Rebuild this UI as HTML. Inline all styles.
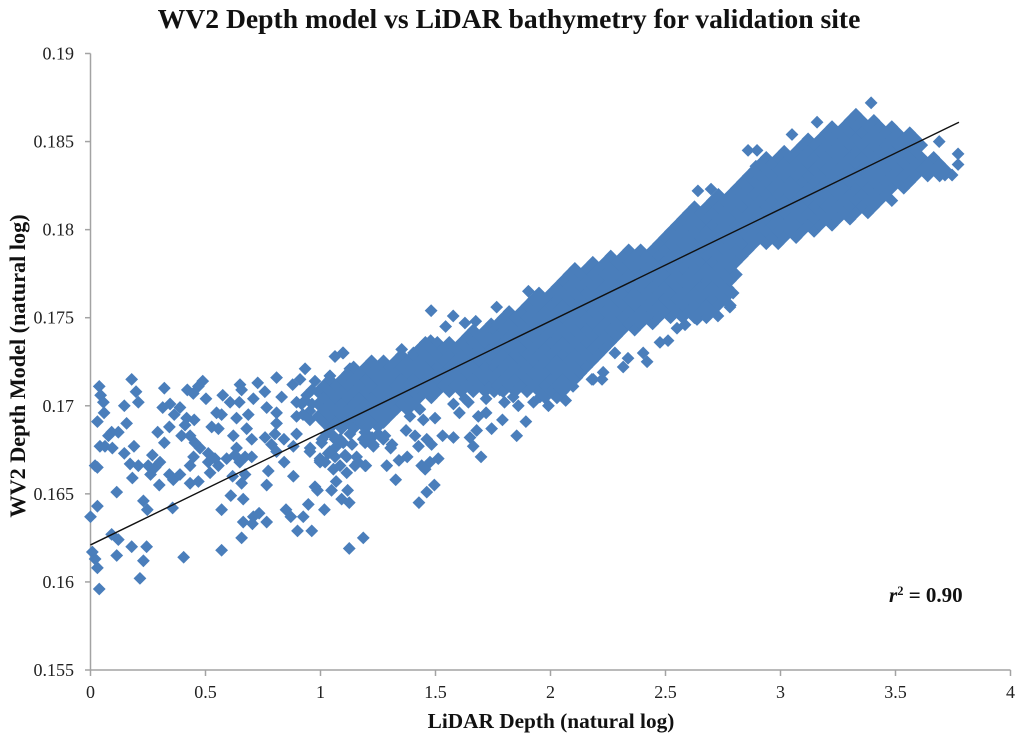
<!DOCTYPE html>
<html>
<head>
<meta charset="utf-8">
<title>WV2 Depth model vs LiDAR bathymetry</title>
<style>
html,body{margin:0;padding:0;background:#fff;}
svg{display:block;}
text{font-family:"Liberation Serif",serif;}
</style>
</head>
<body>
<svg id="chart" width="1024" height="739" viewBox="0 0 1024 739" xmlns="http://www.w3.org/2000/svg">
<rect x="0" y="0" width="1024" height="739" fill="#ffffff"/>
<text x="509" y="28" text-anchor="middle" font-size="27.65" font-weight="bold" fill="#111">WV2 Depth model vs LiDAR bathymetry for validation site</text>
<text x="551" y="728" text-anchor="middle" font-size="21.3" font-weight="bold" fill="#111">LiDAR Depth (natural log)</text>
<text transform="translate(25,366) rotate(-90)" text-anchor="middle" font-size="22.2" font-weight="bold" fill="#111">WV2 Depth Model (natural log)</text>
<text x="889" y="602" font-size="21" font-weight="bold" fill="#111"><tspan font-style="italic">r</tspan><tspan font-size="12.5" dy="-7">2</tspan><tspan dy="7"> = 0.90</tspan></text>
<g id="axes"></g>
<g id="points"></g>
<g id="trend"></g>
</svg>
<script>
const xTicks = [0, 0.5, 1, 1.5, 2, 2.5, 3, 3.5, 4];
const xTickLabels = ["0", "0.5", "1", "1.5", "2", "2.5", "3", "3.5", "4"];
const yTicks = [0.155, 0.16, 0.165, 0.17, 0.175, 0.18, 0.185, 0.19];
const yTickLabels = ["0.155", "0.16", "0.165", "0.17", "0.175", "0.18", "0.185", "0.19"];
const trendDepth = [0, 3.776];
const trendModel = [0.1621, 0.1861];

const scatterDepth = [
.038,.179,.044,.198,.056,.208,.147,.059,.030,.157,.121,.092,.078,.041,.063,.095,.189,.147,.020,.030,.172,.208,.182,.114,.030,0,.230,.247,.092,.121,.179,.244,.008,.020,.114,.230,.030,.215,.038,.405,.570,.657,.357,.570,.610,.664,.664,.708,.704,.733,.766,.850,.871,.925,.900,.962,.947,1.017,1.125,1.186,.976,.987,1.048,1.118,1.092,1.125,1.068,.882,.766,.657,.773,.842,.672,.618,
.299,.343,.360,.389,.433,.469,.520,.261,.281,.251,.302,.269,.433,.448,.512,.556,.541,.512,.592,.628,.649,.635,.701,.672,.476,.454,.433,.396,.321,.292,.343,.411,.451,.418,.364,.389,.346,.314,.321,.421,.447,.469,.488,.502,.575,.607,.650,.657,.647,.708,.727,.758,.809,.831,.766,.809,.686,.635,.570,.548,.527,.556,.621,.679,.701,.759,.809,.802,.787,.841,.809,.882,.954,.896,.896,.896,.918,.879,.933,.911,.976,.940,.954,1.020,1.041,1.063,1.099,1.128,1.186,1.230,1.194,1.114,1.056,1.157,.998,1.034,1.099,1.114,1.063,1.005,1.026,1.026,1.056,1.114,1.085,1.143,1.215,1.201,
1.481,1.544,1.479,1.353,1.404,1.097,1.063,1.904,1.766,1.675,1.577,1.628,1.041,1.128,1.720,1.628,1.643,1.578,1.604,1.686,1.720,1.860,1.800,2.066,1.991,2.186,1.893,1.791,1.744,1.679,1.853,1.578,1.531,1.650,1.664,1.698,1.498,1.372,1.411,1.426,1.462,1.483,1.512,1.476,1.440,1.455,1.377,1.341,1.288,1.197,1.305,1.327,1.495,1.462,1.428,1.150,.998,.955,1.194,1.230,1.273,1.252,1.128,1.056,1.070,1.034,1.085,1.331,1.389,1.447,1.432,1.838,1.926,1.954,2.027,1.780,
2.42,2.316,2.229,2.224,2.18,2.098,2.028,2.403,2.337,2.28,2.115,2.0,2.476,2.511,2.55,2.585,2.637,2.728,2.78,2.772,2.794,
2.641,2.698,2.859,2.898,2.893,3.05,3.159,3.394,3.69,3.772,3.772,3.746,3.715,
1.007,1.041,1.063,1.107,.998,1.137,1.163,1.085,1.020,1.224,1.28,1.25,1.311,1.193,.954,.933,.963,.924,.963
];
const scatterModel = [
.1711,.1715,.1706,.1708,.1702,.1702,.1700,.1696,.1691,.1690,.1685,.1685,.1683,.1677,.1677,.1676,.1677,.1673,.1666,.1665,.1667,.1666,.1659,.1651,.1643,.1637,.1646,.1641,.1627,.1624,.1620,.1620,.1617,.1613,.1615,.1612,.1608,.1602,.1596,.1614,.1618,.1625,.1642,.1641,.1649,.1647,.1634,.1637,.1633,.1639,.1634,.1641,.1637,.1637,.1629,.1629,.1644,.1641,.1619,.1625,.1654,.1652,.1652,.1652,.1647,.1645,.1657,.1660,.1655,.1656,.1663,.1668,.1661,.1660,
.1655,.1661,.1658,.1661,.1656,.1657,.1662,.1661,.1665,.1666,.1668,.1672,.1666,.1671,.1668,.1666,.1670,.1673,.1670,.1672,.1668,.1676,.1671,.1671,.1676,.1679,.1683,.1683,.1679,.1685,.1688,.1689,.1692,.1693,.1695,.1699,.1701,.1699,.1710,.1709,.1707,.1711,.1714,.1704,.1706,.1702,.1712,.1709,.1702,.1704,.1713,.1708,.1716,.1705,.1699,.1696,.1695,.1693,.1695,.1696,.1688,.1687,.1683,.1687,.1681,.1682,.1690,.1684,.1678,.1681,.1674,.1677,.1674,.1684,.1694,.1702,.1701,.1712,.1721,.1715,.1714,.1706,.1697,.1708,.1717,.1728,.1730,.1721,.1681,.1678,.1666,.1662,.1664,.1671,.1668,.1673,.1679,.1671,.1671,.1679,.1684,.1696,.1692,.1703,.1709,.1690,.1705,.1717,
.1754,.1745,.1737,.1732,.1730,.1730,.1728,.1765,.1756,.1748,.1751,.1747,.1717,.1721,.1704,.1704,.1702,.1701,.1696,.1694,.1696,.1700,.1702,.1703,.1700,.1715,.1691,.1692,.1687,.1686,.1683,.1682,.1683,.1682,.1677,.1671,.1693,.1686,.1683,.1677,.1681,.1678,.1670,.1668,.1666,.1664,.1671,.1669,.1666,.1666,.1676,.1658,.1655,.1651,.1645,.1666,.1669,.1676,.1679,.1677,.1681,.1684,.1684,.1683,.1677,.1673,.1681,.1698,.1694,.1692,.1698,.1705,.1702,.1705,.1707,.1709,
.1725,.1722,.1719,.1715,.1715,.1711,.1705,.1730,.1727,.1730,.1716,.1711,.1736,.1737,.1744,.1746,.1749,.1751,.1756,.1767,.1764,
.1822,.1823,.1845,.1845,.1836,.1854,.1861,.1872,.1850,.1843,.1837,.1831,.1831,
.1681,.1674,.1681,.1672,.1670,.1678,.1668,.1666,.1668,.1682,.1683,.1688,.1678,.1685,.1692,.1703,.1709,.1695,.1701
];

/* each band column: [depth, [model values at that depth]] */
const bandColumns = [
[.988,[.1694,.1701,.1708]],
[1.014,[.16905,.16975,.17045,.17115]],
[1.04,[.1687,.1694,.1701,.1708,.1715]],
[1.066,[.16905,.16975,.17045,.17115]],
[1.092,[.1687,.1694,.1701,.1708,.1715]],
[1.118,[.16905,.16975,.17045,.17115,.17185]],
[1.144,[.1687,.1694,.1701,.1708,.1715,.1722]],
[1.17,[.16905,.16975,.17045,.17115,.17185]],
[1.196,[.1687,.1694,.1701,.1708,.1715,.1722]],
[1.222,[.16905,.16975,.17045,.17115,.17185,.17255]],
[1.248,[.1694,.1701,.1708,.1715,.1722]],
[1.274,[.16905,.16975,.17045,.17115,.17185,.17255]],
[1.3,[.1694,.1701,.1708,.1715,.1722]],
[1.326,[.16975,.17045,.17115,.17185,.17255]],
[1.352,[.1701,.1708,.1715,.1722,.1729]],
[1.378,[.16975,.17045,.17115,.17185,.17255]],
[1.404,[.1701,.1708,.1715,.1722,.1729]],
[1.43,[.17045,.17115,.17185,.17255,.17325]],
[1.456,[.1708,.1715,.1722,.1729,.1736]],
[1.482,[.17045,.17115,.17185,.17255,.17325]],
[1.508,[.1708,.1715,.1722,.1729,.1736]],
[1.534,[.17115,.17185,.17255,.17325]],
[1.56,[.1708,.1715,.1722,.1729,.1736]],
[1.586,[.17115,.17185,.17255,.17325]],
[1.612,[.1708,.1715,.1722,.1729,.1736]],
[1.638,[.17115,.17185,.17255,.17325,.17395]],
[1.664,[.1708,.1715,.1722,.1729,.1736,.1743]],
[1.69,[.17115,.17185,.17255,.17325,.17395]],
[1.716,[.1708,.1715,.1722,.1729,.1736,.1743]],
[1.742,[.17115,.17185,.17255,.17325,.17395,.17465]],
[1.755,[.1708,.1715,.1722,.1729,.1736,.1743]],
[1.768,[.17115,.17185,.17255,.17325,.17395,.17465]],
[1.794,[.1708,.1715,.1722,.1729,.1736,.1743,.175]],
[1.82,[.17115,.17185,.17255,.17325,.17395,.17465,.17535]],
[1.846,[.1708,.1715,.1722,.1729,.1736,.1743,.175]],
[1.872,[.17115,.17185,.17255,.17325,.17395,.17465,.17535]],
[1.898,[.1708,.1715,.1722,.1729,.1736,.1743,.175,.1757]],
[1.924,[.17115,.17185,.17255,.17325,.17395,.17465,.17535,.17605]],
[1.95,[.1708,.1715,.1722,.1729,.1736,.1743,.175,.1757,.1764]],
[1.976,[.17045,.17115,.17185,.17255,.17325,.17395,.17465,.17535,.17605]],
[2.002,[.1708,.1715,.1722,.1729,.1736,.1743,.175,.1757,.1764]],
[2.028,[.17045,.17115,.17185,.17255,.17325,.17395,.17465,.17535,.17605,.17675]],
[2.054,[.1708,.1715,.1722,.1729,.1736,.1743,.175,.1757,.1764,.1771]],
[2.08,[.17115,.17185,.17255,.17325,.17395,.17465,.17535,.17605,.17675,.17745]],
[2.106,[.1715,.1722,.1729,.1736,.1743,.175,.1757,.1764,.1771,.1778]],
[2.132,[.17185,.17255,.17325,.17395,.17465,.17535,.17605,.17675,.17745]],
[2.158,[.1722,.1729,.1736,.1743,.175,.1757,.1764,.1771,.1778]],
[2.184,[.17255,.17325,.17395,.17465,.17535,.17605,.17675,.17745,.17815]],
[2.21,[.1729,.1736,.1743,.175,.1757,.1764,.1771,.1778]],
[2.236,[.17325,.17395,.17465,.17535,.17605,.17675,.17745,.17815]],
[2.262,[.1736,.1743,.175,.1757,.1764,.1771,.1778,.1785]],
[2.288,[.17395,.17465,.17535,.17605,.17675,.17745,.17815]],
[2.314,[.1743,.175,.1757,.1764,.1771,.1778,.1785]],
[2.34,[.17465,.17535,.17605,.17675,.17745,.17815,.17885]],
[2.366,[.1743,.175,.1757,.1764,.1771,.1778,.1785]],
[2.392,[.17465,.17535,.17605,.17675,.17745,.17815,.17885]],
[2.418,[.175,.1757,.1764,.1771,.1778,.1785]],
[2.444,[.17465,.17535,.17605,.17675,.17745,.17815,.17885]],
[2.47,[.175,.1757,.1764,.1771,.1778,.1785,.1792]],
[2.496,[.17535,.17605,.17675,.17745,.17815,.17885,.17955]],
[2.522,[.175,.1757,.1764,.1771,.1778,.1785,.1792,.1799]],
[2.548,[.17535,.17605,.17675,.17745,.17815,.17885,.17955,.18025]],
[2.574,[.175,.1757,.1764,.1771,.1778,.1785,.1792,.1799,.1806]],
[2.6,[.17535,.17605,.17675,.17745,.17815,.17885,.17955,.18025,.18095]],
[2.626,[.175,.1757,.1764,.1771,.1778,.1785,.1792,.1799,.1806,.1813]],
[2.652,[.17535,.17605,.17675,.17745,.17815,.17885,.17955,.18025,.18095]],
[2.678,[.175,.1757,.1764,.1771,.1778,.1785,.1792,.1799,.1806,.1813]],
[2.704,[.17535,.17605,.17675,.17745,.17815,.17885,.17955,.18025,.18095,.18165]],
[2.73,[.1757,.1764,.1771,.1778,.1785,.1792,.1799,.1806,.1813,.182]],
[2.756,[.17605,.17675,.17745,.17815,.17885,.17955,.18025,.18095,.18165]],
[2.782,[.1757,.1764,.1771,.1778,.1785,.1792,.1799,.1806,.1813,.182]],
[2.808,[.17745,.17815,.17885,.17955,.18025,.18095,.18165,.18235]],
[2.834,[.1785,.1792,.1799,.1806,.1813,.182,.1827]],
[2.86,[.17885,.17955,.18025,.18095,.18165,.18235,.18305]],
[2.886,[.1792,.1799,.1806,.1813,.182,.1827,.1834]],
[2.912,[.17955,.18025,.18095,.18165,.18235,.18305,.18375]],
[2.938,[.1792,.1799,.1806,.1813,.182,.1827,.1834,.1841]],
[2.964,[.17955,.18025,.18095,.18165,.18235,.18305,.18375]],
[2.99,[.1792,.1799,.1806,.1813,.182,.1827,.1834,.1841]],
[3.016,[.17955,.18025,.18095,.18165,.18235,.18305,.18375,.18445]],
[3.042,[.1799,.1806,.1813,.182,.1827,.1834,.1841]],
[3.068,[.17955,.18025,.18095,.18165,.18235,.18305,.18375,.18445]],
[3.094,[.1799,.1806,.1813,.182,.1827,.1834,.1841,.1848]],
[3.12,[.18025,.18095,.18165,.18235,.18305,.18375,.18445,.18515]],
[3.146,[.1799,.1806,.1813,.182,.1827,.1834,.1841,.1848]],
[3.172,[.18025,.18095,.18165,.18235,.18305,.18375,.18445,.18515]],
[3.198,[.1806,.1813,.182,.1827,.1834,.1841,.1848,.1855]],
[3.224,[.18025,.18095,.18165,.18235,.18305,.18375,.18445,.18515,.18585]],
[3.25,[.1806,.1813,.182,.1827,.1834,.1841,.1848,.1855]],
[3.276,[.18095,.18165,.18235,.18305,.18375,.18445,.18515,.18585]],
[3.302,[.1806,.1813,.182,.1827,.1834,.1841,.1848,.1855,.1862]],
[3.328,[.18095,.18165,.18235,.18305,.18375,.18445,.18515,.18585,.18655]],
[3.354,[.1813,.182,.1827,.1834,.1841,.1848,.1855,.1862]],
[3.38,[.18095,.18165,.18235,.18305,.18375,.18445,.18515,.18585]],
[3.406,[.1813,.182,.1827,.1834,.1841,.1848,.1855,.1862]],
[3.432,[.18165,.18235,.18305,.18375,.18445,.18515,.18585]],
[3.458,[.182,.1827,.1834,.1841,.1848,.1855]],
[3.484,[.18165,.18235,.18305,.18375,.18445,.18515,.18585]],
[3.51,[.1827,.1834,.1841,.1848,.1855]],
[3.536,[.18235,.18305,.18375,.18445,.18515]],
[3.562,[.1827,.1834,.1841,.1848,.1855]],
[3.588,[.18305,.18375,.18445,.18515]],
[3.614,[.1834,.1841,.1848]],
[3.64,[.18305,.18375]],
[3.666,[.1834,.1841]],
[3.692,[.18305,.18375]],
[3.718,[.1834]]
];

const SVG_NS = "http://www.w3.org/2000/svg";
const xMin = 0, xMax = 4, yMin = 0.155, yMax = 0.19;
const plotLeft = 90.5, plotRight = 1010.5, plotTop = 53.5, plotBottom = 670;
function xScale(v) { return plotLeft + (v - xMin) / (xMax - xMin) * (plotRight - plotLeft); }
function yScale(v) { return plotBottom - (v - yMin) / (yMax - yMin) * (plotBottom - plotTop); }

function make(tag, attrs, parent) {
  const el = document.createElementNS(SVG_NS, tag);
  for (const k in attrs) el.setAttribute(k, attrs[k]);
  parent.appendChild(el);
  return el;
}

const axes = document.getElementById("axes");
const axisColor = "#a3a3a3";

const xAxisLine = make("line", {x1: plotLeft, x2: plotRight, y1: plotBottom, y2: plotBottom, stroke: axisColor, "stroke-width": 1.5}, axes);


const yAxisLine = make("line", {x1: plotLeft, x2: plotLeft, y1: plotTop, y2: plotBottom, stroke: axisColor, "stroke-width": 1.5}, axes);



xTicks.forEach(function (t, i) {
  const px = xScale(t);
  const tick = make("line", {x1: px, x2: px, y1: plotBottom, y2: plotBottom + 6, stroke: axisColor, "stroke-width": 1.5}, axes);
  
  
  const label = make("text", {x: px, y: 698, "text-anchor": "middle", "font-size": 18, fill: "#222"}, axes);
  
  
  label.textContent = xTickLabels[i];
});

yTicks.forEach(function (t, i) {
  const py = yScale(t);
  const tick = make("line", {x1: plotLeft - 5.5, x2: plotLeft, y1: py, y2: py, stroke: axisColor, "stroke-width": 1.5}, axes);
  
  
  const label = make("text", {x: 74, y: py + 6, "text-anchor": "end", "font-size": 18, fill: "#222"}, axes);
  
  
  label.textContent = yTickLabels[i];
});

const pointsGroup = document.getElementById("points");
const diamondRadius = 6.4;
function drawPoint(d, m) {
  const cx = xScale(d), cy = yScale(m), r = diamondRadius;
  const mark = make("polygon", {
    points: cx + "," + (cy - r) + " " + (cx + r) + "," + cy + " " + cx + "," + (cy + r) + " " + (cx - r) + "," + cy,
    fill: "#4a7ebb"
  }, pointsGroup);
  
  
}
scatterDepth.forEach(function (d, i) { drawPoint(d, scatterModel[i]); });
bandColumns.forEach(function (col) {
  col[1].forEach(function (m) { drawPoint(col[0], m); });
});

const trendGroup = document.getElementById("trend");
const trendLine = make("line", {
  x1: xScale(trendDepth[0]), y1: yScale(trendModel[0]),
  x2: xScale(trendDepth[1]), y2: yScale(trendModel[1]),
  stroke: "#111", "stroke-width": 1.4
}, trendGroup);


</script>
</body>
</html>
